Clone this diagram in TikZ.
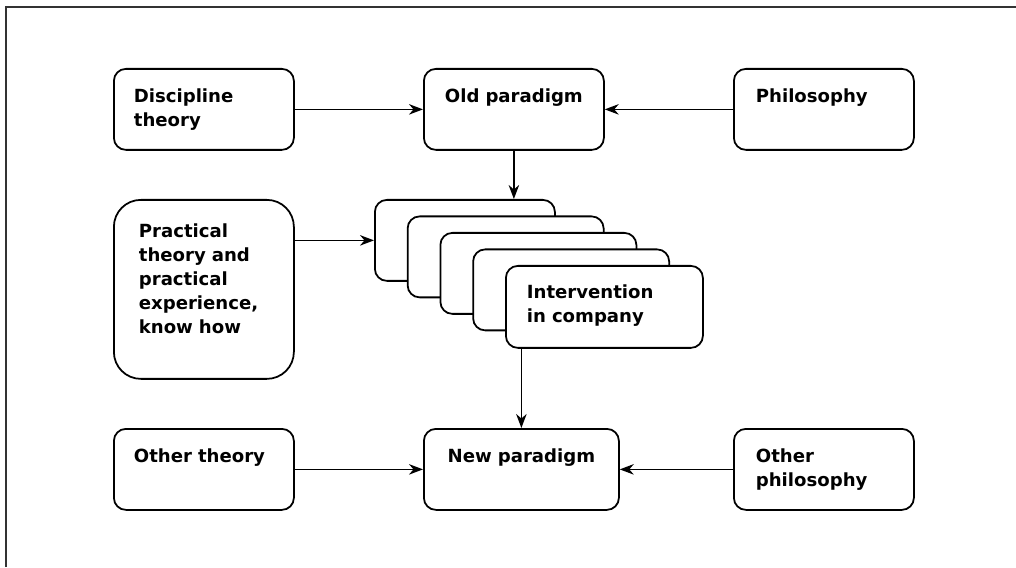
\documentclass[tikz,border=0pt]{standalone}
\usepackage{fontspec}
\setmainfont{DejaVu Sans}
\usetikzlibrary{arrows.meta}

\begin{document}
\begin{tikzpicture}[font=\fontsize{10.3}{13.6}\selectfont\bfseries,
  >={Stealth[length=0.28cm, width=0.21cm, inset=0.09cm]},
  blk/.style={draw, line width=1pt, rounded corners=0.24cm, anchor=north west,
    inner xsep=0.4cm, inner ysep=0pt, text width=2.8cm,
    text height=0.68cm, text depth=0.94cm, align=left},
  conn/.style={->, line width=0.95pt}]
  \useasboundingbox (0,0) rectangle (20.32,11.34);
  \draw[line width=0.9pt, black!80] (0.12,0) -- (0.12,11.2) -- (20.32,11.2);

  \node[blk] (dis) at (2.26,9.98) {Discipline\\theory};
  \node[blk, align=center] (old) at (8.46,9.98) {Old paradigm};
  \node[blk, inner xsep=0.44cm, text width=2.72cm] (phil) at (14.66,9.98) {Philosophy};
  \node[blk, rounded corners=0.54cm, inner xsep=0.5cm, text width=2.6cm,
    text height=0.76cm, text depth=2.82cm] (prac) at (2.26,7.36)
    {Practical\\theory and\\practical\\experience,\\know how};

  % stacked interventions, back to front
  \foreach \i/\w in {1/2.8,2/3.12,3/3.12,4/3.12}
    \node[blk, fill=white, text width=\w cm] (s\i) at ({7.48+0.655*(\i-1)},{7.36-0.33*(\i-1)}) {};
  \node[blk, fill=white, inner xsep=0.42cm, text width=3.1cm, text height=0.66cm,
    text depth=0.98cm] (s5) at (10.10,6.04) {Intervention\\in company};

  \node[blk] (oth) at (2.26,2.78) {Other theory};
  \node[blk, align=center, text width=3.1cm] (newp) at (8.46,2.78) {New paradigm};
  \node[blk, inner xsep=0.44cm, text width=2.72cm] (ophil) at (14.66,2.78) {Other\\philosophy};

  \draw[conn] (dis) -- (old);
  \draw[conn] (phil) -- (old);
  \draw[conn] (old.south) -- (old.south |- s1.north);
  \draw[conn] (prac.east |- s1.west) -- (s1.west);
  \draw[conn] (newp.north |- s5.south) -- (newp.north);
  \draw[conn] (oth) -- (newp);
  \draw[conn] (ophil) -- (newp);
\end{tikzpicture}
\end{document}
